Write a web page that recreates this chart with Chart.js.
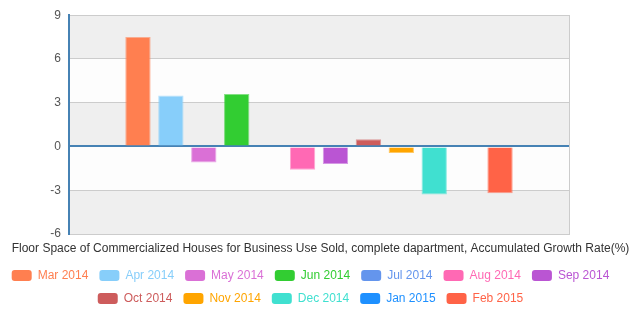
<!DOCTYPE html>
<html>
<head>
<meta charset="utf-8">
<script src="https://cdn.jsdelivr.net/npm/chart.js@4"></script>
<style>
  html, body { margin: 0; padding: 0; background: #fff; }
  #wrap { width: 641px; height: 321px; }
</style>
</head>
<body>
<div id="wrap"><canvas id="chart"></canvas></div>
<script>
// months shown in the legend, one bar each
var months = ["Mar 2014","Apr 2014","May 2014","Jun 2014","Jul 2014","Aug 2014",
              "Sep 2014","Oct 2014","Nov 2014","Dec 2014","Jan 2015","Feb 2015"];
var growth = [7.5, 3.5, -1.1, 3.6, 0.05, -1.6, -1.2, 0.5, -0.45, -3.3, 0, -3.2];
var colors = ['#ff7f50','#87cefa','#da70d6','#32cd32','#6495ed','#ff69b4',
              '#ba55d3','#cd5c5c','#ffa500','#40e0d0','#1e90ff','#ff6347'];
var yTicks = [-6, -3, 0, 3, 6, 9];
var title = "Floor Space of Commercialized Houses for Business Use Sold, complete dapartment, Accumulated Growth Rate(%)";

var datasets = months.map(function (m, i) {
    return {
        label: m,
        data: [growth[i]],
        backgroundColor: colors[i],
        borderColor: colors[i] + '99',
        borderWidth: 1,
        categoryPercentage: 0.79,
        barPercentage: 0.77
    };
});

// alternating grey / white bands between the y ticks
var bands = {
    id: 'bands',
    afterLayout: function (chart) {
        // legend rows sit a little left of centre in the original
        chart.legend.left = -20;
    },
    beforeDraw: function (chart) {
        var y = chart.scales.y, a = chart.chartArea, c = chart.ctx;
        c.save();
        for (var i = 0; i < yTicks.length - 1; i++) {
            var y0 = y.getPixelForValue(yTicks[i]);
            var y1 = y.getPixelForValue(yTicks[i + 1]);
            c.fillStyle = (i % 2 == 0) ? '#efefef' : '#fdfdfd';
            c.fillRect(a.left, y1, a.right - a.left, y0 - y1);
        }
        c.restore();
    }
};

Chart.defaults.font.family = "'Liberation Sans', Arial, sans-serif";

new Chart(document.getElementById('chart'), {
    type: 'bar',
    data: { labels: [''], datasets: datasets },
    plugins: [bands],
    options: {
        responsive: true,
        maintainAspectRatio: false,
        animation: false,
        layout: { padding: { top: 14, left: 0, right: 0, bottom: 6.6 } },
        scales: {
            x: { display: false },
            y: {
                min: -6, max: 9,
                afterBuildTicks: function (s) { s.ticks = yTicks.map(function (v) { return { value: v }; }); },
                afterFit: function (s) { s.width = 69; },
                ticks: { color: '#555', font: { size: 12 }, padding: 8 },
                grid: {
                    drawTicks: false,
                    color: function (c) { return c.tick && c.tick.value === 0 ? '#4682b4' : '#cccccc'; },
                    lineWidth: function (c) { return c.tick && c.tick.value === 0 ? 2 : 1; }
                },
                border: { color: '#4682b4', width: 2 }
            },
            y2: {
                position: 'right',
                display: true,
                ticks: { display: false },
                grid: { display: false },
                border: { color: '#cccccc', width: 1 },
                afterFit: function (s) { s.width = 72; }
            }
        },
        plugins: {
            tooltip: { enabled: false },
            title: {
                display: true,
                text: title,
                position: 'bottom',
                weight: 500,
                color: '#333',
                font: { size: 12, weight: 'normal' },
                padding: { top: 7, bottom: 3 }
            },
            legend: {
                position: 'bottom',
                labels: {
                    boxWidth: 20,
                    boxHeight: 11,
                    useBorderRadius: true,
                    borderRadius: 3,
                    padding: 11,
                    font: { size: 12 },
                    generateLabels: function (chart) {
                        return chart.data.datasets.map(function (d, i) {
                            return {
                                text: d.label,
                                fillStyle: d.backgroundColor,
                                strokeStyle: d.backgroundColor,
                                lineWidth: 0,
                                fontColor: d.backgroundColor,
                                datasetIndex: i,
                                hidden: false,
                                borderRadius: 3
                            };
                        });
                    }
                }
            }
        }
    }
});
</script>
</body>
</html>
